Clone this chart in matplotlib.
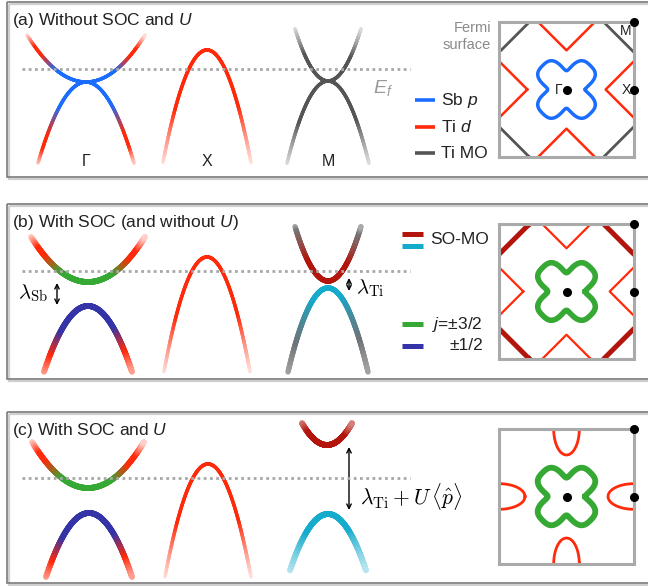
import numpy as np
import matplotlib
matplotlib.use('Agg')
import matplotlib.pyplot as plt
from matplotlib.collections import LineCollection
from matplotlib.colors import to_rgb
from matplotlib.patches import Rectangle

plt.rcParams['font.family'] = ['Liberation Sans', 'DejaVu Sans']
plt.rcParams['mathtext.fontset'] = 'custom'
plt.rcParams['mathtext.rm'] = 'Liberation Sans'
plt.rcParams['mathtext.it'] = 'Liberation Sans:italic'
plt.rcParams['mathtext.bf'] = 'Liberation Sans:bold'

# ---------------- data ----------------
panel_labels = ['(a)', '(b)', '(c)']
panel_titles = ['Without SOC and $U$', 'With SOC (and without $U$)', 'With SOC and $U$']
kpoint_labels = ['Γ', 'X', 'M']

# band extrema relative to E_f (arb. units, positive = above E_f)
E_gamma_upper = [-0.13, -0.11, -0.10]
E_gamma_lower = [-0.13, -0.35, -0.35]
E_x_top = [0.19, 0.14, 0.14]
E_m_upper = [-0.12, -0.10, 0.33]
E_m_lower = [-0.12, -0.17, -0.36]

legend_a = ['Sb $p$', 'Ti $d$', 'Ti MO']
legend_b = ['SO-MO', '$j$=±3/2', '±1/2']

# ---------------- colours ----------------
BLUE = '#1b6dff'
RED = '#ff2a0a'
GREY = '#555555'
DRED = '#b3150d'
CYAN = '#14abcc'
GREEN = '#36a834'
INDIGO = '#3434a8'

# ---------------- canvas in pixel units ----------------
W, H = 648, 586
fig = plt.figure(figsize=(W / 100, H / 100), dpi=100)
ax = fig.add_axes([0, 0, 1, 1])
ax.set_xlim(0, W)
ax.set_ylim(H, 0)
ax.axis('off')

panel_top = [2, 204, 412]
panel_bot = [177, 379, 583]
fermi_y = [69, 271, 478]
E_SCALE = 100.0          # pixels per energy unit
FS_LEFT, FS_SIZE = 499, 135
fs_top = [22, 224, 429]


def colour_along(t, stops):
    ts = [s[0] for s in stops]
    rgb = np.array([to_rgb(s[1]) for s in stops])
    wh = np.array([s[2] for s in stops])
    out = np.column_stack([np.interp(t, ts, rgb[:, i]) for i in range(3)])
    w = np.interp(t, ts, wh)[:, None]
    return np.clip(out * (1 - w) + w, 0, 1)


def band(x0, yf, energy, curv, hw, stops, lw, z=3):
    dx = np.linspace(-hw, hw, 301)
    x = x0 + dx
    y = yf - E_SCALE * energy + curv * dx ** 2
    t = np.abs(dx) / hw
    tm = 0.5 * (t[1:] + t[:-1])
    pts = np.column_stack([x, y])
    segs = np.stack([pts[:-1], pts[1:]], axis=1)
    lc = LineCollection(segs, colors=colour_along(tm, stops), linewidths=lw,
                        capstyle='round', joinstyle='round', zorder=z)
    ax.add_collection(lc)


# ---------------- panel frames ----------------
for top, bot in zip(panel_top, panel_bot):
    ax.add_patch(Rectangle((8.5, top + 1.5), 700, bot - top, fill=False,
                           edgecolor='#cfcfcf', lw=1.6, zorder=0))
    ax.add_patch(Rectangle((7, top), 700, bot - top, fill=False,
                           edgecolor='#7a7a7a', lw=1.2, zorder=1))

for i in range(3):
    ax.text(12, panel_top[i] + 18, panel_labels[i] + ' ' + panel_titles[i],
            fontsize=12.5, color='#222222', va='center', ha='left')
    ax.plot([22, 410], [fermi_y[i], fermi_y[i]], color='#a8a8a8', lw=2.0,
            linestyle=(0, (1.0, 1.25)), solid_capstyle='butt', zorder=6)

# ---------------- bands ----------------
# (a) without SOC and U
yf = fermi_y[0]
band(86, yf, E_gamma_upper[0], -0.0135, 59,
     [(0, BLUE, 0), (0.5, BLUE, 0), (0.75, RED, 0), (0.86, RED, 0), (1, RED, 0.85)], 2.5)
band(86, yf, E_gamma_lower[0], 0.0352, 48,
     [(0, BLUE, 0), (0.55, BLUE, 0), (0.8, RED, 0), (0.9, RED, 0), (1, RED, 0.75)], 2.5)
band(207, yf, E_x_top[0], 0.058, 44,
     [(0, RED, 0), (0.72, RED, 0), (1, RED, 0.85)], 2.5)
band(328, yf, E_m_upper[0], -0.048, 33,
     [(0, GREY, 0), (0.7, GREY, 0), (1, GREY, 0.8)], 2.5)
band(328, yf, E_m_lower[0], 0.049, 41,
     [(0, GREY, 0), (0.7, GREY, 0), (1, GREY, 0.8)], 2.5)
for xk, lab in zip([86, 207, 328], kpoint_labels):
    ax.text(xk, 161, lab, fontsize=11.5, ha='center', va='center', color='#222222')
ax.text(373, 88, '$E_f$', fontsize=14, color='#9a9a9a', ha='left', va='center')

# (b) with SOC
yf = fermi_y[1]
band(88, yf, E_gamma_upper[1], -0.0139, 57,
     [(0, GREEN, 0), (0.45, GREEN, 0), (0.75, RED, 0), (0.86, RED, 0), (1, RED, 0.8)], 4.2)
band(88, yf, E_gamma_lower[1], 0.034, 44,
     [(0, INDIGO, 0), (0.6, INDIGO, 0), (0.85, RED, 0), (1, RED, 0.55)], 4.2)
band(207, yf, E_x_top[1], 0.062, 43,
     [(0, RED, 0), (0.72, RED, 0), (1, RED, 0.85)], 2.5)
band(328, yf, E_m_upper[1], -0.050, 33,
     [(0, DRED, 0), (0.6, DRED, 0), (0.95, '#777777', 0), (1, '#777777', 0.4)], 3.8)
band(328, yf, E_m_lower[1], 0.0525, 40,
     [(0, CYAN, 0), (0.35, CYAN, 0), (0.8, '#6f7477', 0), (1, '#7a7a7a', 0.3)], 3.8)

arrow = dict(arrowstyle='<->', lw=1.0, color='black', shrinkA=0, shrinkB=0,
             mutation_scale=8)
ax.annotate('', xy=(57, 283), xytext=(57, 305), arrowprops=arrow)
ax.text(18, 293, r'$\lambda_{\rm Sb}$', fontsize=15, math_fontfamily='cm',
        ha='left', va='center')
ax.annotate('', xy=(349, 278), xytext=(349, 291), arrowprops=arrow)
ax.text(356, 288, r'$\lambda_{\rm Ti}$', fontsize=15, math_fontfamily='cm',
        ha='left', va='center')

# (c) with SOC and U
yf = fermi_y[2]
band(88, yf, E_gamma_upper[2], -0.0147, 56,
     [(0, GREEN, 0), (0.45, GREEN, 0), (0.75, RED, 0), (0.86, RED, 0), (1, RED, 0.8)], 4.2)
band(89, yf, E_gamma_lower[2], 0.0346, 43,
     [(0, INDIGO, 0), (0.6, INDIGO, 0), (0.85, RED, 0), (1, RED, 0.55)], 4.2)
band(208, yf, E_x_top[2], 0.061, 43,
     [(0, RED, 0), (0.72, RED, 0), (1, RED, 0.85)], 2.5)
band(327, yf, E_m_upper[2], -0.035, 25,
     [(0, DRED, 0), (0.75, DRED, 0), (1, DRED, 0.45)], 4.2)
band(328, yf, E_m_lower[2], 0.039, 38,
     [(0, CYAN, 0), (0.55, CYAN, 0), (1, CYAN, 0.7)], 4.2)
ax.annotate('', xy=(349, 447), xytext=(349, 510), arrowprops=arrow)
ax.text(360, 497, r'$\lambda_{\rm Ti}+U\,\langle\hat{p}\rangle$', fontsize=15.5,
        math_fontfamily='cm', ha='left', va='center')

# ---------------- legends ----------------
for yy, col, lab in zip([100, 127, 153], [BLUE, RED, GREY], legend_a):
    ax.plot([415, 435], [yy, yy], color=col, lw=2.6, solid_capstyle='butt')
    ax.text(441, yy, lab, fontsize=12.5, ha='left', va='center', color='#222222')

for yy, col in zip([234, 246], [DRED, CYAN]):
    ax.plot([402, 423], [yy, yy], color=col, lw=3.6, solid_capstyle='butt')
ax.text(430, 240, legend_b[0], fontsize=12.5, ha='left', va='center', color='#222222')
ax.plot([402, 423], [324, 324], color=GREEN, lw=3.6, solid_capstyle='butt')
ax.text(432, 324, legend_b[1], fontsize=12.5, ha='left', va='center', color='#222222')
ax.plot([402, 423], [346, 346], color=INDIGO, lw=3.6, solid_capstyle='butt')
ax.text(449, 346, legend_b[2], fontsize=12.5, ha='left', va='center', color='#222222')

ax.text(491, 28, 'Fermi', fontsize=10.5, color='#8a8a8a', ha='right', va='center')
ax.text(491, 45, 'surface', fontsize=10.5, color='#8a8a8a', ha='right', va='center')


# ---------------- Fermi surfaces ----------------
def clipped(x, y, clip, **kw):
    ln, = ax.plot(x, y, **kw)
    ln.set_clip_path(clip)


def diamond(px, py, r):
    return (np.array([px + r, px, px - r, px, px + r]),
            np.array([py, py + r, py, py - r, py]))


def fermi_surface(i, pocket_col, pocket_lw, corner_col, corner_lw, x_r,
                  clover_col, clover_lw, mode):
    top = fs_top[i]
    L, S = FS_LEFT, FS_SIZE
    s = S / 2
    cx, cy = L + s, top + s
    clip = Rectangle((L, top), S, S, transform=ax.transData)
    mids = [(cx, top), (cx, top + S), (L, cy), (L + S, cy)]
    if mode == 'diamond':
        for px, py in mids:
            x, y = diamond(px, py, x_r * s)
            clipped(x, y, clip, color=pocket_col, lw=pocket_lw, zorder=4)
        for px, py in [(L, top), (L + S, top), (L, top + S), (L + S, top + S)]:
            x, y = diamond(px, py, 0.45 * s)
            clipped(x, y, clip, color=corner_col, lw=corner_lw, zorder=4)
    else:
        th = np.linspace(0, 2 * np.pi, 200)
        an, at = 0.385 * s, 0.19 * s
        for px, py in mids:
            if py in (top, top + S):
                x, y = px + at * np.cos(th), py + an * np.sin(th)
            else:
                x, y = px + an * np.cos(th), py + at * np.sin(th)
            clipped(x, y, clip, color=pocket_col, lw=pocket_lw, zorder=4)
    # four-lobed pocket around Γ
    th = np.linspace(0, 2 * np.pi, 600)
    r = s * (0.42 - 0.111 * np.cos(4 * th) - 0.03 * np.cos(8 * th))
    ax.plot(cx + r * np.cos(th), cy + r * np.sin(th), color=clover_col,
            lw=clover_lw, zorder=5)
    ax.add_patch(Rectangle((L, top), S, S, fill=False, edgecolor='#aaaaaa',
                           lw=2.2, zorder=6))
    ax.plot([cx, L + S, L + S], [cy, cy, top], 'o', color='black', ms=5.5,
            zorder=8, clip_on=False)
    return L, S, cx, cy, top


L, S, cx, cy, top = fermi_surface(0, RED, 1.8, GREY, 2.0, 0.42, BLUE, 2.5, 'diamond')
ax.text(cx - 4, cy, 'Γ', fontsize=10, ha='right', va='center', color='#222222')
ax.text(L + S - 3, cy + 1, 'X', fontsize=10, ha='right', va='center', color='#222222')
ax.text(L + S - 3, top + 9, 'M', fontsize=10, ha='right', va='center', color='#222222')
fermi_surface(1, RED, 1.6, DRED, 3.6, 0.36, GREEN, 4.0, 'diamond')
fermi_surface(2, RED, 2.0, None, 0, 0, GREEN, 4.2, 'ellipse')

fig.savefig('out.png', dpi=100)
